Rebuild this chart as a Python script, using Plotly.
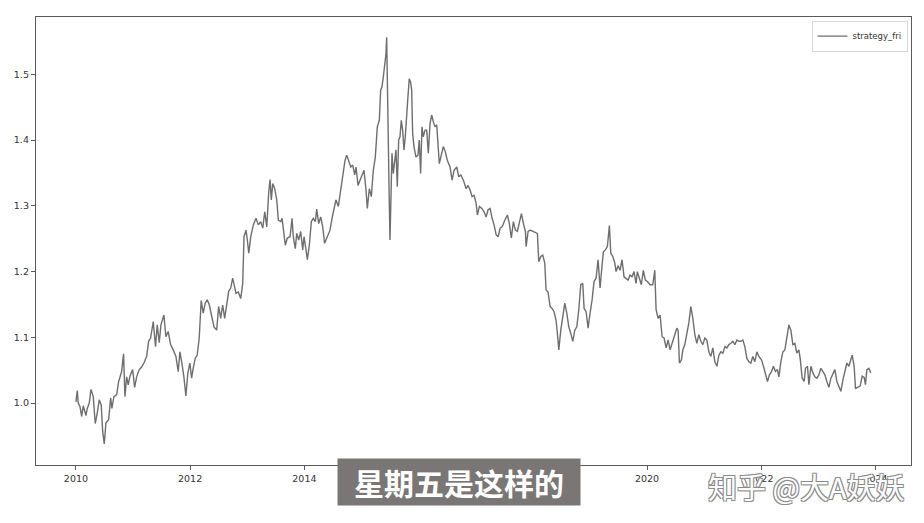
import pandas as pd
import plotly.graph_objects as go

# decimal year positions of the readings
years = [
2010.000,2010.023,2010.040,2010.070,2010.100,2010.128,2010.175,2010.198,2010.233,2010.263,
2010.303,2010.338,2010.373,2010.408,2010.443,2010.468,2010.496,2010.525,2010.573,2010.608,
2010.630,2010.665,2010.713,2010.748,2010.800,2010.834,2010.858,2010.888,2010.916,2010.946,
2010.993,2011.028,2011.063,2011.109,2011.151,2011.191,2011.238,2011.273,2011.308,2011.354,
2011.394,2011.424,2011.459,2011.489,2011.541,2011.576,2011.616,2011.658,2011.704,2011.751,
2011.792,2011.821,2011.856,2011.891,2011.926,2011.961,2011.996,2012.026,2012.054,2012.089,
2012.124,2012.159,2012.194,2012.229,2012.264,2012.299,2012.334,2012.376,2012.417,2012.464,
2012.499,2012.534,2012.569,2012.604,2012.639,2012.674,2012.709,2012.744,2012.802,2012.842,
2012.884,2012.919,2012.942,2012.977,2013.000,2013.025,2013.060,2013.105,2013.152,2013.193,
2013.235,2013.270,2013.305,2013.340,2013.375,2013.398,2013.420,2013.445,2013.480,2013.515,
2013.543,2013.585,2013.608,2013.643,2013.666,2013.700,2013.748,2013.783,2013.805,2013.840,
2013.865,2013.900,2013.935,2013.970,2013.993,2014.028,2014.051,2014.086,2014.121,2014.156,
2014.191,2014.215,2014.250,2014.285,2014.320,2014.354,2014.400,2014.448,2014.495,2014.553,
2014.594,2014.635,2014.670,2014.711,2014.741,2014.776,2014.811,2014.846,2014.881,2014.904,
2014.939,2014.974,2015.009,2015.044,2015.079,2015.102,2015.137,2015.172,2015.207,2015.242,
2015.277,2015.312,2015.336,2015.359,2015.382,2015.406,2015.429,2015.441,2015.464,2015.487,
2015.499,2015.517,2015.534,2015.557,2015.581,2015.604,2015.627,2015.651,2015.674,2015.697,
2015.721,2015.744,2015.767,2015.791,2015.814,2015.837,2015.861,2015.879,2015.896,2015.919,
2015.954,2015.989,2016.012,2016.036,2016.059,2016.082,2016.112,2016.142,2016.170,2016.200,
2016.229,2016.257,2016.287,2016.317,2016.340,2016.362,2016.397,2016.432,2016.467,2016.503,
2016.550,2016.585,2016.620,2016.667,2016.702,2016.737,2016.783,2016.830,2016.865,2016.900,
2016.935,2016.970,2017.005,2017.028,2017.063,2017.105,2017.145,2017.180,2017.215,2017.250,
2017.285,2017.320,2017.356,2017.391,2017.426,2017.461,2017.508,2017.553,2017.588,2017.623,
2017.658,2017.693,2017.728,2017.764,2017.799,2017.834,2017.869,2017.881,2017.916,2017.951,
2017.998,2018.044,2018.079,2018.103,2018.138,2018.173,2018.208,2018.231,2018.266,2018.301,
2018.336,2018.371,2018.406,2018.429,2018.454,2018.489,2018.524,2018.559,2018.594,2018.629,
2018.664,2018.699,2018.734,2018.769,2018.804,2018.839,2018.874,2018.897,2018.932,2018.967,
2019.002,2019.037,2019.072,2019.107,2019.142,2019.177,2019.212,2019.235,2019.270,2019.305,
2019.340,2019.365,2019.400,2019.435,2019.457,2019.492,2019.527,2019.562,2019.597,2019.632,
2019.667,2019.702,2019.737,2019.772,2019.807,2019.830,2019.865,2019.900,2019.935,2019.970,
2020.005,2020.053,2020.100,2020.135,2020.158,2020.193,2020.228,2020.263,2020.298,2020.333,
2020.368,2020.403,2020.438,2020.473,2020.520,2020.543,2020.566,2020.601,2020.625,2020.660,
2020.695,2020.730,2020.765,2020.800,2020.835,2020.870,2020.905,2020.940,2020.975,2021.010,
2021.045,2021.080,2021.115,2021.150,2021.185,2021.221,2021.256,2021.291,2021.326,2021.361,
2021.396,2021.431,2021.466,2021.501,2021.536,2021.571,2021.606,2021.641,2021.676,2021.711,
2021.746,2021.781,2021.816,2021.851,2021.886,2021.921,2021.956,2022.002,2022.037,2022.072,
2022.107,2022.142,2022.177,2022.212,2022.247,2022.282,2022.307,2022.342,2022.377,2022.412,
2022.447,2022.482,2022.517,2022.552,2022.587,2022.622,2022.657,2022.680,2022.715,2022.750,
2022.773,2022.808,2022.833,2022.868,2022.903,2022.938,2022.973,2023.008,2023.043,2023.078,
2023.113,2023.148,2023.183,2023.218,2023.253,2023.288,2023.323,2023.358,2023.393,2023.428,
2023.463,2023.498,2023.533,2023.568,2023.591,2023.626,2023.649,2023.684,2023.731,2023.766,
2023.801,2023.824,2023.848,2023.883,2023.918,
]

strategy_fri = [
1.002,1.019,1.000,0.995,0.980,0.996,0.981,0.992,1.000,1.021,
1.010,0.969,0.985,1.005,0.997,0.957,0.938,0.970,0.975,1.008,
0.992,1.010,1.013,1.033,1.048,1.075,1.010,1.040,1.028,1.041,
1.051,1.024,1.040,1.051,1.055,1.061,1.071,1.094,1.099,1.124,
1.086,1.119,1.092,1.119,1.134,1.101,1.109,1.089,1.081,1.071,
1.048,1.078,1.061,1.040,1.011,1.046,1.061,1.038,1.053,1.068,
1.073,1.099,1.156,1.137,1.152,1.157,1.150,1.134,1.116,1.111,
1.147,1.129,1.149,1.129,1.147,1.170,1.175,1.190,1.167,1.169,
1.159,1.182,1.253,1.263,1.248,1.228,1.253,1.271,1.281,1.271,
1.276,1.266,1.291,1.268,1.321,1.340,1.309,1.334,1.326,1.309,
1.278,1.276,1.281,1.253,1.240,1.251,1.253,1.281,1.253,1.235,
1.258,1.248,1.261,1.233,1.253,1.233,1.218,1.240,1.276,1.281,
1.276,1.295,1.273,1.283,1.268,1.243,1.253,1.263,1.286,1.309,
1.299,1.326,1.344,1.369,1.377,1.367,1.359,1.362,1.347,1.359,
1.331,1.339,1.347,1.354,1.324,1.296,1.326,1.314,1.354,1.374,
1.420,1.430,1.476,1.481,1.496,1.511,1.531,1.556,1.395,1.304,
1.248,1.304,1.380,1.349,1.369,1.385,1.329,1.400,1.405,1.430,
1.415,1.385,1.405,1.430,1.466,1.493,1.488,1.476,1.410,1.390,
1.374,1.377,1.400,1.349,1.420,1.405,1.415,1.415,1.380,1.425,
1.438,1.428,1.420,1.423,1.392,1.364,1.377,1.390,1.382,1.369,
1.359,1.339,1.354,1.359,1.344,1.347,1.339,1.326,1.331,1.324,
1.314,1.316,1.304,1.286,1.299,1.296,1.291,1.283,1.294,1.296,
1.281,1.271,1.256,1.253,1.266,1.268,1.278,1.286,1.273,1.251,
1.276,1.263,1.261,1.276,1.288,1.273,1.261,1.238,1.261,1.263,
1.261,1.259,1.258,1.215,1.223,1.225,1.213,1.172,1.169,1.147,
1.144,1.139,1.126,1.106,1.081,1.111,1.131,1.152,1.137,1.116,
1.106,1.094,1.111,1.116,1.142,1.180,1.182,1.144,1.139,1.114,
1.137,1.157,1.185,1.190,1.218,1.175,1.210,1.230,1.233,1.238,
1.270,1.228,1.223,1.213,1.200,1.209,1.202,1.218,1.192,1.190,
1.187,1.195,1.192,1.200,1.182,1.200,1.190,1.180,1.202,1.187,
1.185,1.180,1.180,1.202,1.142,1.129,1.134,1.101,1.099,1.084,
1.096,1.081,1.091,1.101,1.114,1.111,1.061,1.066,1.081,1.089,
1.106,1.122,1.147,1.129,1.104,1.091,1.104,1.094,1.089,1.099,
1.096,1.078,1.071,1.084,1.063,1.056,1.073,1.078,1.076,1.086,
1.084,1.089,1.091,1.094,1.089,1.096,1.094,1.094,1.096,1.086,
1.068,1.063,1.061,1.071,1.063,1.078,1.071,1.066,1.056,1.043,
1.033,1.043,1.048,1.056,1.048,1.051,1.040,1.063,1.078,1.081,
1.101,1.119,1.111,1.089,1.091,1.076,1.081,1.068,1.038,1.033,
1.053,1.056,1.028,1.056,1.046,1.040,1.038,1.043,1.053,1.048,
1.043,1.033,1.024,1.038,1.046,1.051,1.033,1.024,1.018,1.035,
1.051,1.061,1.056,1.066,1.073,1.056,1.022,1.024,1.026,1.041,
1.039,1.028,1.051,1.053,1.046,
]

tick_years = [2010, 2012, 2014, 2016, 2018, 2020, 2022, 2024]
# 2016 and 2018 labels sit fully behind the subtitle box in the reference
tick_labels = ["2010", "2012", "2014", "", "", "2020", "2022", "2024"]
series_name = "strategy_fri"
subtitle = "星期五是这样的"
watermark = "知乎 @大A妖妖"


def to_date(y):
    yr = int(y)
    start = pd.Timestamp(year=yr, month=1, day=1)
    end = pd.Timestamp(year=yr + 1, month=1, day=1)
    return start + (end - start) * (y - yr)


dates = [to_date(y) for y in years]
tick_vals = [pd.Timestamp(year=t, month=1, day=1) for t in tick_years]

fig = go.Figure()
fig.add_trace(go.Scatter(
    x=dates, y=strategy_fri, mode="lines", name=series_name,
    line=dict(color="#6e6e6e", width=1.4),
))

axis_common = dict(
    showgrid=False, zeroline=False, showline=True, mirror=True,
    linecolor="#5a5a5a", linewidth=1.3, ticks="outside", ticklen=4,
    tickcolor="#5a5a5a", tickfont=dict(family="DejaVu Sans", size=9.5, color="#333333"),
)

fig.update_xaxes(
    type="date", range=[to_date(2009.30), to_date(2024.62)],
    tickvals=tick_vals, ticktext=tick_labels, **axis_common,
)
fig.update_yaxes(
    range=[0.906, 1.587], tickvals=[1.0, 1.1, 1.2, 1.3, 1.4, 1.5],
    ticktext=["1.0", "1.1", "1.2", "1.3", "1.4", "1.5"], **axis_common,
)

fig.update_layout(
    width=916, height=515,
    margin=dict(l=28, r=13, t=9, b=58, autoexpand=False),
    paper_bgcolor="white", plot_bgcolor="white",
    showlegend=True,
    legend=dict(
        x=0.996, y=0.992, xanchor="right", yanchor="top",
        bgcolor="white", bordercolor="#d8d8d8", borderwidth=1,
        font=dict(family="DejaVu Sans", size=8.5, color="#333333"),
        itemwidth=30, tracegroupgap=0,
    ),
    annotations=[
        dict(
            text="<b>" + subtitle + "</b>", xref="paper", yref="paper",
            x=0.4834, y=-0.039, xanchor="center", yanchor="middle",
            showarrow=False, bgcolor="#7b7676", borderpad=3,
            width=236, height=40,
            font=dict(family="Noto Sans CJK SC", size=30, color="white"),
        ),
        dict(
            text=watermark, xref="paper", yref="paper",
            x=0.88, y=-0.047, xanchor="center", yanchor="middle",
            showarrow=False,
            font=dict(
                family="Noto Sans CJK SC", size=29, color="white",
                shadow="-1px -1px 0 #8a8a8a, 1px -1px 0 #8a8a8a, -1px 1px 0 #8a8a8a, 1px 1px 0 #8a8a8a",
            ),
        ),
    ],
)

fig.write_html("out.html")
